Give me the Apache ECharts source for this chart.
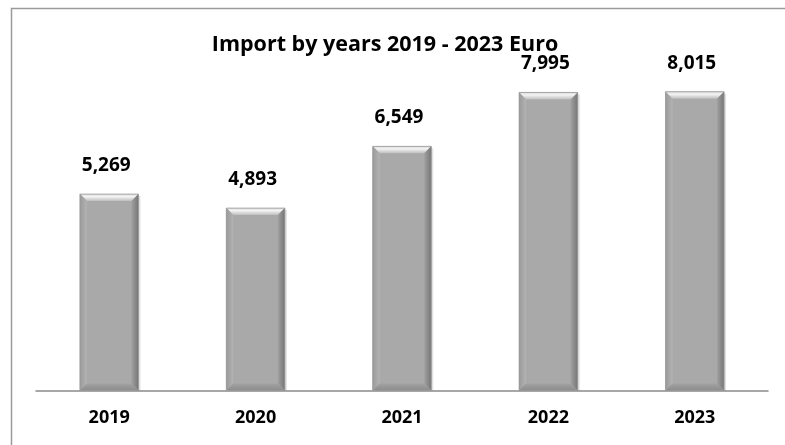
<!DOCTYPE html>
<html><head><meta charset="utf-8">
<script src="https://cdn.jsdelivr.net/npm/echarts@6/dist/echarts.min.js"></script>
<style>html,body{margin:0;padding:0;background:#fff}#c{width:785px;height:445px}</style>
</head><body><div id="c"></div>
<script>
const years = ['2019','2020','2021','2022','2023'];
const imports = [5269, 4893, 6549, 7995, 8015];
const titleText = 'Import by years 2019 - 2023 Euro';
const FONT = '"Open Sans", sans-serif';

const chart = echarts.init(document.getElementById('c'));
function fmt(v){ return v.toLocaleString('en-US'); }

chart.setOption({
  backgroundColor: '#fff',
  animation: false,
  title: {
    text: titleText, left: 380, top: 29, textAlign: 'center',
    textStyle: { fontFamily: FONT, fontWeight: 'bold', fontSize: 21.5, color: '#000' }
  },
  graphic: [{
    type: 'rect', shape: { x: 11.5, y: 8.5, width: 790, height: 450 },
    style: { fill: null, stroke: '#9a9a9a', lineWidth: 1.5 }, z: -1
  }],
  grid: { left: 36, right: 17, top: 55, bottom: 54.5 },
  xAxis: {
    type: 'category', data: years,
    axisLine: { lineStyle: { color: '#8a8a8a', width: 1.5 } },
    axisTick: { length: 6, lineStyle: { color: '#8a8a8a', width: 1.5 } },
    axisLabel: { fontFamily: FONT, fontWeight: 'bold', fontSize: 18, color: '#000', margin: 18 }
  },
  yAxis: { type: 'value', min: 0, max: 9000, show: false, splitLine: { show: false } },
  series: [{
    type: 'custom',
    data: imports.map((v, i) => [i, v]),
    encode: { x: 0, y: 1 },
    renderItem: function (params, api) {
      const idx = api.value(0), val = api.value(1);
      const top = api.coord([idx, val]);
      const base = api.coord([idx, 0]);
      const w = api.size([1, 0])[0] * 0.40;
      const l = top[0] - w / 2, r = top[0] + w / 2, t = top[1], b = base[1];
      const bv = 7;
      return {
        type: 'group',
        children: [
          { type: 'rect', shape: { x: l + 2, y: t + 2, width: w, height: b - t - 2 },
            style: { fill: 'rgba(0,0,0,0.12)' } },
          { type: 'rect', shape: { x: l, y: t, width: w, height: b - t },
            style: { fill: '#a9a9a9' } },
          { type: 'polygon', shape: { points: [[l, t], [r, t], [r - bv, t + bv], [l + bv, t + bv]] },
            style: { fill: new echarts.graphic.LinearGradient(0, 0, 0, 1, [
              { offset: 0, color: '#d8d8d8' }, { offset: 0.35, color: '#f4f4f4' }, { offset: 1, color: '#bdbdbd' }]) } },
          { type: 'polygon', shape: { points: [[l, t], [l + bv, t + bv], [l + bv, b - bv], [l, b]] },
            style: { fill: new echarts.graphic.LinearGradient(0, 0, 1, 0, [
              { offset: 0, color: '#9a9a9a' }, { offset: 1, color: '#b3b3b3' }]) } },
          { type: 'polygon', shape: { points: [[r, t], [r - bv, t + bv], [r - bv, b - bv], [r, b]] },
            style: { fill: new echarts.graphic.LinearGradient(0, 0, 1, 0, [
              { offset: 0, color: '#a0a0a0' }, { offset: 1, color: '#767676' }]) } },
          { type: 'polygon', shape: { points: [[l, b], [l + bv, b - bv], [r - bv, b - bv], [r, b]] },
            style: { fill: new echarts.graphic.LinearGradient(0, 0, 0, 1, [
              { offset: 0, color: '#a2a2a2' }, { offset: 1, color: '#8c8c8c' }]) } },
          { type: 'rect', shape: { x: l, y: t, width: w, height: b - t },
            style: { fill: null, stroke: '#999', lineWidth: 0.8 } },
          { type: 'text', x: top[0] - 3, y: t - 19,
            style: { text: fmt(val), fontFamily: FONT, fontWeight: 'bold', fontSize: 19,
              fill: '#000', align: 'center', verticalAlign: 'bottom' } }
        ]
      };
    }
  }]
});
</script></body></html>
